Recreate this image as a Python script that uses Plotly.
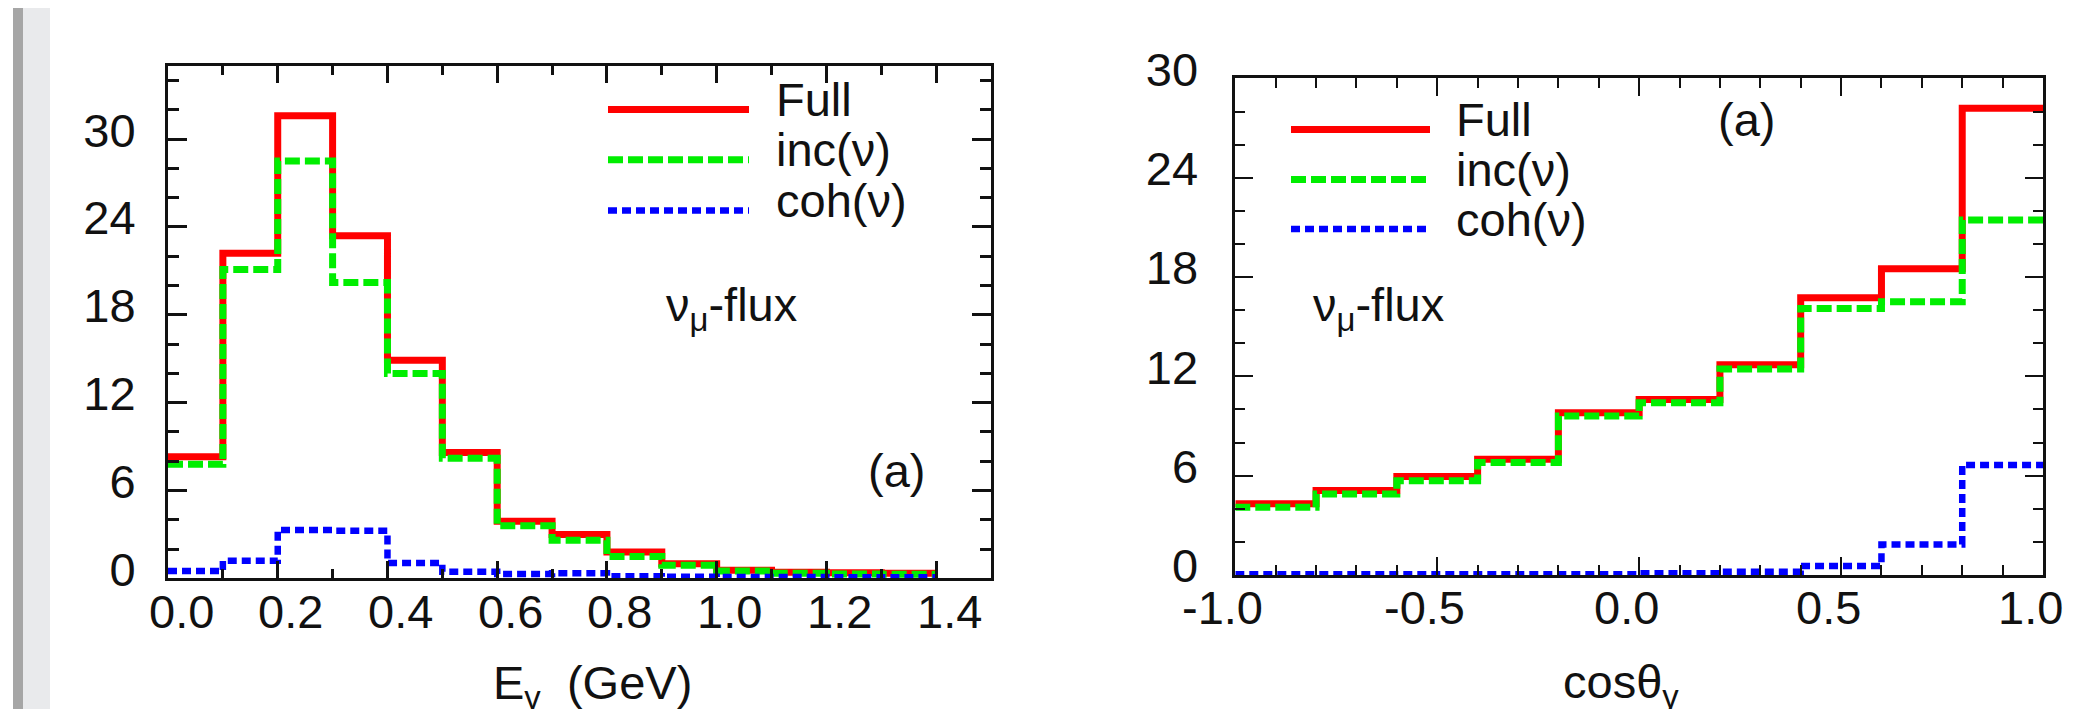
import plotly.graph_objects as go

# ---------------- data ----------------
E_EDGES = [0.0, 0.1, 0.2, 0.3, 0.4, 0.5, 0.6, 0.7, 0.8, 0.9, 1.0, 1.1, 1.2, 1.3, 1.4]
E_FULL = [8.3, 22.2, 31.6, 23.4, 14.9, 8.6, 3.9, 3.0, 1.8, 1.0, 0.55, 0.42, 0.38, 0.35]
E_INC = [7.8, 21.1, 28.5, 20.2, 14.0, 8.2, 3.6, 2.6, 1.5, 0.9, 0.5, 0.35, 0.3, 0.28]
E_COH = [0.5, 1.2, 3.3, 3.25, 1.05, 0.45, 0.3, 0.35, 0.15, 0.12, 0.1, 0.1, 0.08, 0.08]

COS_EDGES = [-1.0, -0.8, -0.6, -0.4, -0.2, 0.0, 0.2, 0.4, 0.6, 0.8, 1.0]
COS_FULL = [4.3, 5.1, 5.95, 7.0, 9.8, 10.6, 12.7, 16.75, 18.5, 28.2]
COS_INC = [4.1, 4.9, 5.7, 6.8, 9.6, 10.4, 12.45, 16.1, 16.5, 21.45]
COS_COH = [0.05, 0.05, 0.05, 0.05, 0.05, 0.1, 0.2, 0.55, 1.85, 6.65]

SERIES_NAMES = ["Full", "inc(ν)", "coh(ν)"]
E_TICKS = [0.0, 0.2, 0.4, 0.6, 0.8, 1.0, 1.2, 1.4]
COS_TICKS = [-1.0, -0.5, 0.0, 0.5, 1.0]
Y_TICKS = [0, 6, 12, 18, 24, 30]

# ---------------- styles ----------------
W, H = 2096, 709
FONT = "Liberation Sans, Arial, sans-serif"
FS = 47
STYLES = [
    dict(color="#ff0000", width=7, dash="solid"),
    dict(color="#00ee00", width=7, dash="15px,5px"),
    dict(color="#0000ff", width=6.5, dash="9px,5px"),
]


def px_x(p):
    return p / W


def px_y(p):
    return 1 - p / H


def steps(edges, vals):
    return list(edges), list(vals) + [vals[-1]]


fig = go.Figure()

for vals, st in zip([E_FULL, E_INC, E_COH], STYLES):
    x, y = steps(E_EDGES, vals)
    fig.add_trace(go.Scatter(x=x, y=y, mode="lines", line=dict(shape="hv", **st),
                             xaxis="x", yaxis="y", showlegend=False))
for vals, st in zip([COS_FULL, COS_INC, COS_COH], STYLES):
    x, y = steps(COS_EDGES, vals)
    fig.add_trace(go.Scatter(x=x, y=y, mode="lines", line=dict(shape="hv", **st),
                             xaxis="x2", yaxis="y2", showlegend=False))

axis_common = dict(showgrid=False, zeroline=False, showline=True, linecolor="#111",
                   mirror="allticks", ticks="inside", tickcolor="#111", automargin=False,
                   tickfont=dict(family=FONT, size=FS, color="#111"))

fig.update_layout(
    width=W, height=H, margin=dict(l=0, r=0, t=0, b=0, autoexpand=False),
    paper_bgcolor="white", plot_bgcolor="white", showlegend=False,
    xaxis=dict(domain=[px_x(160), px_x(983)], anchor="y", range=[0, 1.5],
               tickvals=E_TICKS, showticklabels=False,
               ticklen=17, tickwidth=2.5, linewidth=3,
               minor=dict(ticks="inside", dtick=0.1, tick0=0, ticklen=9, tickwidth=2.5, tickcolor="#111"),
               **axis_common),
    yaxis=dict(domain=[px_y(570.4), px_y(57.9)], anchor="x", range=[0, 35],
               tickvals=Y_TICKS, ticklen=19, tickwidth=2.5, linewidth=3, ticklabelstandoff=20,
               ticklabelshift=-9,
               minor=dict(ticks="inside", dtick=2, tick0=0, ticklen=11, tickwidth=2.5, tickcolor="#111"),
               **axis_common),
    xaxis2=dict(domain=[px_x(1227.3), px_x(2035)], anchor="y2", range=[-1, 1],
                tickvals=COS_TICKS, showticklabels=False,
                ticklen=18, tickwidth=2, linewidth=2.5,
                minor=dict(ticks="inside", dtick=0.1, tick0=0, ticklen=10, tickwidth=2, tickcolor="#111"),
                **axis_common),
    yaxis2=dict(domain=[px_y(567), px_y(70.4)], anchor="x2", range=[0, 30],
                tickvals=Y_TICKS, ticklen=18, tickwidth=2, linewidth=2.5, ticklabelstandoff=25,
                ticklabelshift=-9,
                minor=dict(ticks="inside", dtick=2, tick0=0, ticklen=10, tickwidth=2, tickcolor="#111"),
                **axis_common),
)

# x tick labels, positioned on the axis scale
for v in E_TICKS:
    fig.add_annotation(xref="x", yref="paper", x=v, y=px_y(603), xanchor="center", yanchor="middle",
                       xshift=13, showarrow=False, text=f"{v:.1f}",
                       font=dict(family=FONT, size=FS, color="#111"))
for v in COS_TICKS:
    fig.add_annotation(xref="x2", yref="paper", x=v, y=px_y(599), xanchor="center", yanchor="middle",
                       xshift=-13, showarrow=False, text=f"{v:.1f}",
                       font=dict(family=FONT, size=FS, color="#111"))

# left-edge gray window bar
fig.add_shape(type="rect", xref="paper", yref="paper", x0=px_x(5), x1=px_x(15), y0=0, y1=1,
              fillcolor="#a6a6a6", line_width=0, layer="below")
fig.add_shape(type="rect", xref="paper", yref="paper", x0=px_x(15), x1=px_x(42), y0=0, y1=1,
              fillcolor="#e9eaec", line_width=0, layer="below")

TEXT_SHIFT = 8  # raise text so the cap centre sits on the given pixel row

# legends (sample lines + labels)
legend_specs = [
    dict(x0=600, x1=741, ys=[101.4, 151.8, 202.5], tx=766),
    dict(x0=1283, x1=1422, ys=[121.4, 171.4, 221.0], tx=1446),
]
for spec in legend_specs:
    for name, st, yy in zip(SERIES_NAMES, STYLES, spec["ys"]):
        fig.add_shape(type="line", xref="paper", yref="paper",
                      x0=px_x(spec["x0"]), x1=px_x(spec["x1"]), y0=px_y(yy), y1=px_y(yy),
                      line=dict(color=st["color"], width=st["width"], dash=st["dash"]))
        fig.add_annotation(xref="paper", yref="paper", x=px_x(spec["tx"]), y=px_y(yy - TEXT_SHIFT - 2),
                           xanchor="left", yanchor="middle", showarrow=False, text=name,
                           font=dict(family=FONT, size=FS, color="#111"))


def ann(text, x, y, xanchor="center", yanchor="middle", size=FS):
    fig.add_annotation(xref="paper", yref="paper", x=px_x(x), y=px_y(y), xanchor=xanchor,
                       yanchor=yanchor, showarrow=False, text=text,
                       font=dict(family=FONT, size=size, color="#111"))


ann("ν<sub>μ</sub>-flux", 656, 300, xanchor="left")
ann("ν<sub>μ</sub>-flux", 1303, 300, xanchor="left")
ann("(a)", 888, 462)
ann("(a)", 1738, 112)
ann("E<sub>γ</sub>  (GeV)", 483, 678, xanchor="left")
ann("cosθ<sub>γ</sub>", 1553, 677, xanchor="left")

fig.write_html("out.html")
